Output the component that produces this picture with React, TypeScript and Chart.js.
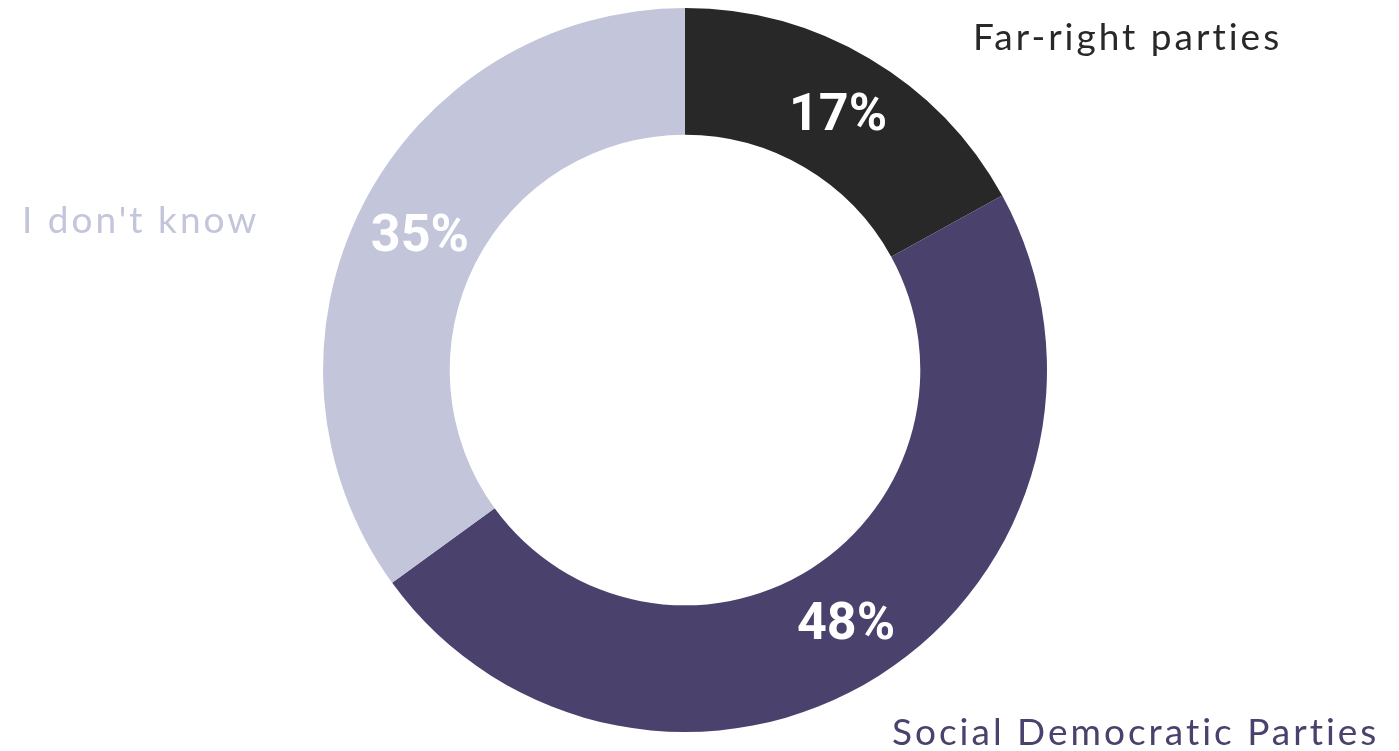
import React, { useEffect, useRef } from "react";
import { Chart, registerables } from "chart.js";

Chart.register(...registerables);

const categories = ["Far-right parties", "Social Democratic Parties", "I don't know"];
const values = [17, 48, 35];
const valueLabels = ["17%", "48%", "35%"];
const colors = ["#282828", "#4a416d", "#c3c5da"];

const labelFont = "400 37px Lato, 'Noto Sans', sans-serif";

const outerLabelsPlugin = {
  id: "outerLabels",
  afterDatasetsDraw(chart: any) {
    const ctx = chart.ctx as CanvasRenderingContext2D;
    const meta = chart.getDatasetMeta(0);
    ctx.save();
    meta.data.forEach((arc: any, i: number) => {
      const p = arc.tooltipPosition();
      ctx.fillStyle = "#ffffff";
      ctx.font = "700 52px Roboto, 'Noto Sans', sans-serif";
      ctx.textAlign = "center";
      ctx.textBaseline = "middle";
      ctx.fillText(valueLabels[i], p.x + 1, p.y + 4);
    });
    const a0 = meta.data[0];
    const cx = a0.x;
    const cy = a0.y;
    const R = a0.outerRadius;
    ctx.font = labelFont;
    (ctx as any).letterSpacing = "3px";
    ctx.textBaseline = "alphabetic";
    ctx.textAlign = "left";
    // Far-right label: top right
    ctx.fillStyle = colors[0];
    ctx.fillText(categories[0], cx + 288, cy - R + 42);
    // Social Democratic label: bottom right
    ctx.fillStyle = colors[1];
    ctx.fillText(categories[1], cx + 207, cy + R + 13);
    // I don't know: left
    ctx.fillStyle = colors[2];
    ctx.fillText(categories[2], cx - 663, cy - 137);
    ctx.restore();
  },
};

export default function App() {
  const ref = useRef<HTMLCanvasElement | null>(null);
  useEffect(() => {
    document.body.style.margin = "0";
    const canvas = ref.current!;
    const chart = new Chart(canvas, {
      type: "doughnut",
      data: {
        labels: categories,
        datasets: [
          {
            data: values,
            backgroundColor: colors,
            borderWidth: 0,
          },
        ],
      },
      options: {
        responsive: false,
        animation: false,
        cutout: "65%",
        layout: { padding: { top: 8, bottom: 19, left: 0, right: 29 } },
        plugins: {
          legend: { display: false },
          tooltip: { enabled: false },
        },
      },
      plugins: [outerLabelsPlugin],
    });
    return () => chart.destroy();
  }, []);
  return (
    <div style={{ width: 1399, height: 751, background: "#ffffff" }}>
      <canvas ref={ref} width={1399} height={751} style={{ display: "block" }} />
    </div>
  );
}
